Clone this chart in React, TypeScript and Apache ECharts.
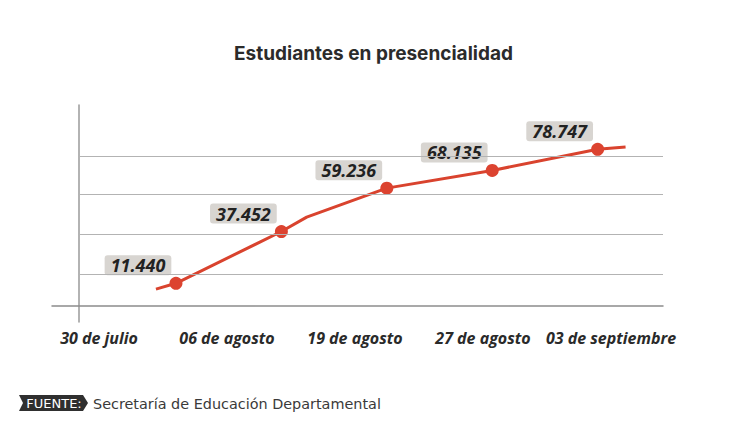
import React, { useEffect, useRef } from "react";
import * as echarts from "echarts";

// ---- data ----
const titulo = "Estudiantes en presencialidad";
const fechas = ["30 de julio", "06 de agosto", "19 de agosto", "27 de agosto", "03 de septiembre"];
const estudiantes = [11440, 37452, 59236, 68135, 78747];
// extra points of the hand-drawn stroke: [x (category index), value]
const inicioTrazo = [-0.19, 8500];
const quiebreTrazo = [1.24, 44700];
const finTrazo = [4.265, 79900];
const lineasGuia = [16000, 36000, 56000, 75500];
const fuenteEtiqueta = "FUENTE:";
const fuenteTexto = "Secretaría de Educación Departamental";

const fmt = (v: number) => {
  const miles = Math.floor(v / 1000);
  const resto = String(v % 1000).padStart(3, "0");
  return `${miles}.${resto}`;
};

export default function App() {
  const ref = useRef<HTMLDivElement>(null);

  useEffect(() => {
    if (!ref.current) return;
    const chart = echarts.init(ref.current, null, { renderer: "svg" });

    const puntos = estudiantes.map((v, i) => [i, v]);
    const trazo = [inicioTrazo, puntos[0], puntos[1], quiebreTrazo, puntos[2], puntos[3], puntos[4], finTrazo];

    const option: any = {
      animation: false,
      backgroundColor: "#ffffff",
      title: {
        text: titulo,
        left: "center",
        top: 39,
        textStyle: { fontFamily: "Inter", fontWeight: "bold", fontSize: 19, color: "#2b2b2b" },
      },
      grid: [
        { left: 79, right: 84, top: 105, bottom: 105, outerBoundsMode: "none" },
        { left: 52, right: 84, top: 105, bottom: 121, outerBoundsMode: "none" },
        { left: 35, right: 72, top: 105, bottom: 121, outerBoundsMode: "none" },
      ],
      xAxis: [
        {
          gridIndex: 0,
          type: "value",
          min: -0.92,
          max: 4.62,
          show: false,
        },
        {
          gridIndex: 1,
          type: "value",
          min: 0,
          max: 1,
          axisLine: { show: true, onZero: false, lineStyle: { color: "#8c8c8c", width: 1.5 } },
          axisTick: { show: false },
          axisLabel: { show: false },
          splitLine: { show: false },
        },
        {
          gridIndex: 2,
          type: "category",
          data: fechas,
          boundaryGap: true,
          axisLine: { show: false },
          axisTick: { show: false },
          axisLabel: {
            interval: 0,
            margin: 24,
            fontFamily: "Open Sans",
            fontWeight: "bold",
            fontStyle: "italic",
            fontSize: 16,
            color: "#2a2a2a",
          },
          splitLine: { show: false },
        },
      ],
      yAxis: [
        {
          gridIndex: 0,
          type: "value",
          min: -8000,
          max: 101000,
          axisLine: { show: true, onZero: false, lineStyle: { color: "#9a9a9a", width: 1.5 } },
          axisTick: { show: false },
          axisLabel: { show: false },
          splitLine: { show: false },
        },
        { gridIndex: 1, type: "value", show: false },
        { gridIndex: 2, type: "value", show: false },
      ],
      series: [
        {
          type: "line",
          name: "trazo",
          xAxisIndex: 0,
          yAxisIndex: 0,
          data: trazo,
          showSymbol: false,
          symbol: "none",
          lineStyle: { color: "#d9432e", width: 3 },
          markLine: {
            silent: true,
            symbol: "none",
            label: { show: false },
            lineStyle: { color: "#b3b3b3", width: 1, type: "solid" },
            data: lineasGuia.map((v) => ({ yAxis: v })),
          },
          z: 2,
        },
        {
          type: "scatter",
          name: "Estudiantes",
          xAxisIndex: 0,
          yAxisIndex: 0,
          data: puntos,
          symbol: "circle",
          symbolSize: 13,
          itemStyle: { color: "#dc4330", opacity: 1 },
          label: {
            show: true,
            position: "inside",
            offset: [-38, -18],
            formatter: (p: any) => fmt(p.value[1]),
            fontFamily: "Open Sans",
            fontWeight: "bold",
            fontStyle: "italic",
            fontSize: 18,
            lineHeight: 18,
            color: "#222222",
            backgroundColor: "#d8d5d1",
            borderRadius: 3,
            padding: [1, 6, 1, 6],
          },
          z: 3,
        },
        {
          type: "line",
          xAxisIndex: 2,
          yAxisIndex: 2,
          data: [],
        },
      ],
      graphic: [
        {
          type: "polygon",
          shape: {
            points: [
              [19, 395],
              [83, 395],
              [88, 403],
              [83, 411],
              [19, 411],
              [23, 403],
            ],
          },
          style: { fill: "#2f2f2f" },
        },
        {
          type: "text",
          x: 54,
          y: 403.5,
          style: {
            text: fuenteEtiqueta,
            fill: "#ffffff",
            font: "13px 'DejaVu Sans'",
            textAlign: "center",
            textVerticalAlign: "middle",
          },
        },
        {
          type: "text",
          x: 93,
          y: 403.5,
          style: {
            text: fuenteTexto,
            fill: "#3a3a3a",
            font: "14.4px 'DejaVu Sans'",
            textAlign: "left",
            textVerticalAlign: "middle",
          },
        },
      ],
    };

    chart.setOption(option);
    return () => chart.dispose();
  }, []);

  return (
    <div
      ref={ref}
      style={{ position: "fixed", left: 0, top: 0, width: 747, height: 427, background: "#fff" }}
    />
  );
}
